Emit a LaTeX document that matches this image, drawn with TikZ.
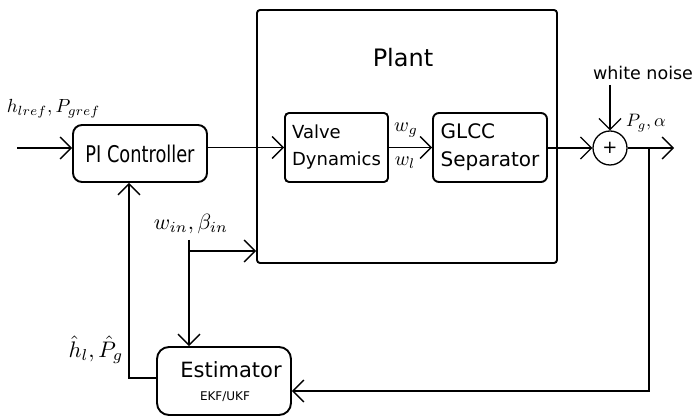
\documentclass[tikz,border=0pt]{standalone}
\usepackage{graphicx}
\usepackage{fontspec}
\setsansfont{DejaVu Sans}
\newfontfamily\condfont{DejaVu Sans Condensed}
\usetikzlibrary{arrows.meta}
\tikzset{
  box/.style={draw, line width=1.9pt, rounded corners=9pt, inner sep=0pt, font=\sffamily},
  arr/.style={line width=1.3pt, -{Straight Barb[length=11pt,width=22pt,line width=1.3pt]}},
  lbl/.style={inner sep=0pt},
}
\newcommand{\mlab}[2]{\scalebox{#1}{$#2$}}
\begin{document}
\begin{tikzpicture}[x=1pt,y=-1pt]
\useasboundingbox (0,0) rectangle (694,419);
% boxes
\node[box, rounded corners=3pt, minimum width=300pt, minimum height=253pt] (plant) at (407,136.5) {};
\node[lbl, font=\sffamily\fontsize{24}{26}\selectfont] (plantlbl) at (403,58) {Plant};
\node[box, minimum width=134pt, minimum height=57pt, font=\condfont\fontsize{23}{25}\selectfont] (pi) at (140,153.5) {\scalebox{0.86}[1]{PI Controller}};
\node[box, rounded corners=4pt, minimum width=103pt, minimum height=69pt, align=left, font=\sffamily\fontsize{18}{27}\selectfont] (valve) at (336.5,147.5) {Valve\\Dynamics};
\node[box, rounded corners=6pt, minimum width=114pt, minimum height=69pt, align=left, font=\sffamily\fontsize{20}{28}\selectfont] (glcc) at (490,147.5) {GLCC\\Separator};
\node[draw, circle, line width=1.3pt, minimum size=34pt, inner sep=0pt, font=\sffamily\fontsize{18}{18}\selectfont] (sum) at (610,148) {+};
\node[box, rounded corners=12pt, minimum width=134pt, minimum height=68pt] (est) at (224,381) {};
\node[lbl, font=\sffamily\fontsize{21}{23}\selectfont] (esttxt) at (231,370) {Estimator};
\node[lbl, font=\sffamily\fontsize{12}{14}\selectfont] (estsub) at (225,397) {EKF/UKF};
\node[lbl, font=\sffamily\fontsize{17.5}{20}\selectfont] (wn) at (643,73) {white noise};
% labels
\node[lbl] (ref) at (53.5,109) {\mlab{1.9}{h_{lref},P_{gref}}};
\node[lbl] (wg) at (406,130) {\mlab{2}{w_g}};
\node[lbl] (wl) at (405,163) {\mlab{2}{w_l}};
\node[lbl] (pg) at (646,123) {\mlab{1.8}{P_g,\alpha}};
\node[lbl] (winl) at (191,224) {\mlab{2.2}{w_{in},\beta_{in}}};
\node[lbl] (hatl) at (96,350) {\mlab{2.25}{\hat{h}_l,\hat{P}_g}};
% coordinates
\coordinate (in) at (17,148);
\coordinate (wnend) at (610,85);
\coordinate (out) at (674,148);
\coordinate (tap) at (649,148);
\coordinate (fb) at (649,391);
\coordinate (fbl) at (129,378);
\coordinate (win) at (189,240);
\coordinate (br) at (189,251);
% connectors
\draw[arr] (in) -- (in -| pi.west);
\draw[arr] (pi.east |- valve.west) -- (valve.west);
\draw[arr] (valve.east) -- (glcc.west);
\draw[arr] (glcc.east |- sum.west) -- (sum.west);
\draw[arr] (wnend) -- (sum.north);
\draw[arr] (sum.east) -- (out);
\draw[arr] (tap) -- (fb) -- (fb -| est.east);
\draw[arr] (est.west |- fbl) -- (fbl) -- (fbl |- pi.south);
\draw[arr] (win) -- (win |- est.north);
\draw[arr] (br) -- (br -| plant.west);
\end{tikzpicture}
\end{document}
